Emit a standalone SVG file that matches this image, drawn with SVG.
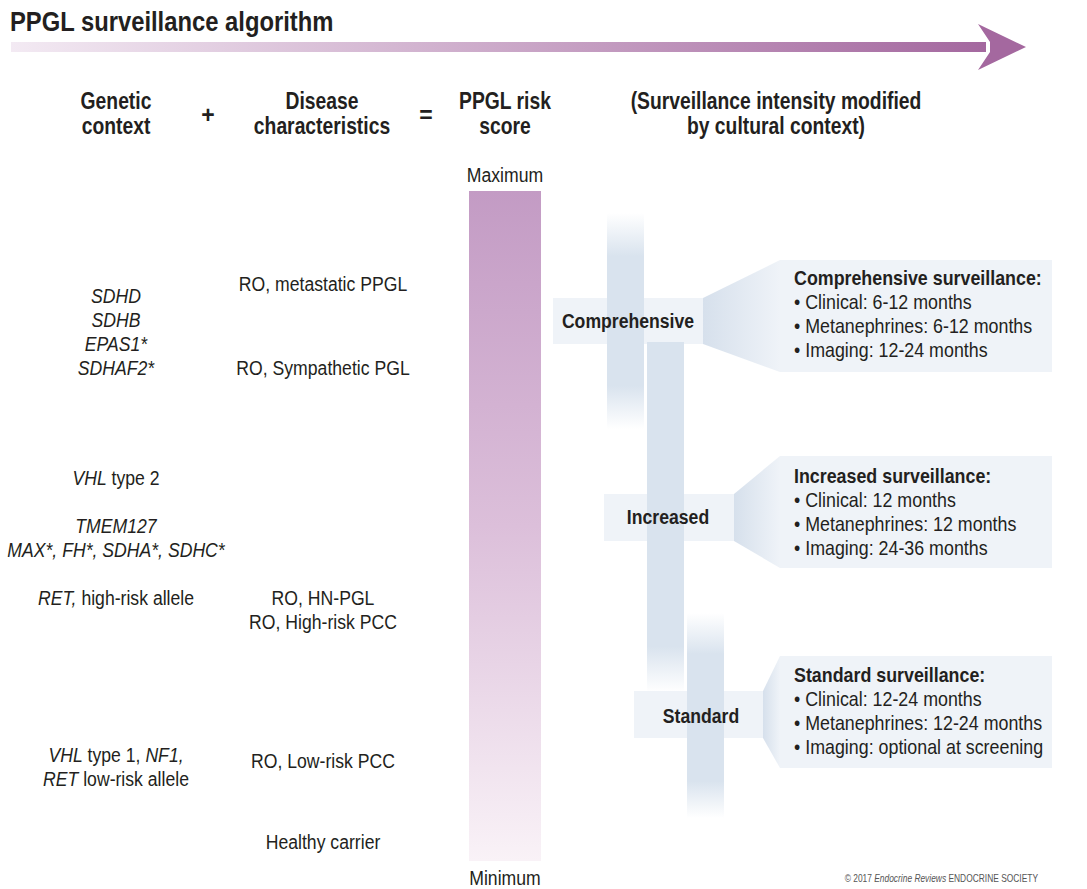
<svg xmlns="http://www.w3.org/2000/svg" width="1087" height="889" viewBox="0 0 1087 889">
<style>
text{font-family:"Liberation Sans",Arial,sans-serif;fill:#231f20;}
.n{font-size:21px;}
.h{font-size:23px;font-weight:bold;}
.lb{font-size:21px;font-weight:bold;}
.i{font-style:italic;}
.m{text-anchor:middle;}
.cp{font-size:10.5px;fill:#555;}
.box{fill:#eff3f8;}
</style>
<defs>
<linearGradient id="arrowG" x1="0" y1="0" x2="1" y2="0">
<stop offset="0" stop-color="#f3eaf3"/>
<stop offset="1" stop-color="#a4689f"/>
</linearGradient>
<linearGradient id="riskG" x1="0" y1="0" x2="0" y2="1">
<stop offset="0" stop-color="#c39bc4"/>
<stop offset="0.5" stop-color="#dcbfda"/>
<stop offset="1" stop-color="#f9f2f7"/>
</linearGradient>
<linearGradient id="b1" x1="0" y1="0" x2="0" y2="1">
<stop offset="0" stop-color="#d9e3ee" stop-opacity="0"/>
<stop offset="0.2" stop-color="#d9e3ee"/>
<stop offset="0.8" stop-color="#d9e3ee"/>
<stop offset="1" stop-color="#d9e3ee" stop-opacity="0"/>
</linearGradient>
<linearGradient id="b2" x1="0" y1="0" x2="0" y2="1">
<stop offset="0" stop-color="#d9e3ee"/>
<stop offset="0.87" stop-color="#d9e3ee"/>
<stop offset="1" stop-color="#d9e3ee" stop-opacity="0"/>
</linearGradient>
<linearGradient id="b3" x1="0" y1="0" x2="0" y2="1">
<stop offset="0" stop-color="#d9e3ee" stop-opacity="0"/>
<stop offset="0.2" stop-color="#d9e3ee"/>
<stop offset="0.82" stop-color="#d9e3ee"/>
<stop offset="1" stop-color="#d9e3ee" stop-opacity="0"/>
</linearGradient>
<linearGradient id="trap" x1="0" y1="0" x2="1" y2="0">
<stop offset="0" stop-color="#d6e0ec"/>
<stop offset="1" stop-color="#eff3f8"/>
</linearGradient>
</defs>
<rect width="1087" height="889" fill="#ffffff"/>

<g id="title">
<g transform="translate(10 31) scale(0.85 1)"><text x="0" y="0" style="font-size:28px;font-weight:bold">PPGL surveillance algorithm</text></g>
<rect x="11" y="42" width="975" height="10" fill="url(#arrowG)"/>
<polygon points="978,24 1026,47 978,70 990,52 990,42" fill="#a4689f"/>
</g>

<g id="headers">
<g transform="translate(116 0) scale(0.84 1)">
<text class="h m" x="0" y="109">Genetic</text>
<text class="h m" x="0" y="134">context</text>
</g>
<text class="h m" x="208" y="123">+</text>
<g transform="translate(322 0) scale(0.84 1)">
<text class="h m" x="0" y="109">Disease</text>
<text class="h m" x="0" y="134">characteristics</text>
</g>
<text class="h m" x="426" y="123">=</text>
<g transform="translate(505 0) scale(0.84 1)">
<text class="h m" x="0" y="109">PPGL risk</text>
<text class="h m" x="0" y="134">score</text>
</g>
<g transform="translate(776 0) scale(0.84 1)">
<text class="h m" x="0" y="109">(Surveillance intensity modified</text>
<text class="h m" x="0" y="134">by cultural context)</text>
</g>
</g>

<g id="genetic-context" transform="translate(116 0) scale(0.84 1)">
<text class="n m i" x="0" y="303">SDHD</text>
<text class="n m i" x="0" y="327">SDHB</text>
<text class="n m i" x="0" y="351">EPAS1*</text>
<text class="n m i" x="0" y="375">SDHAF2*</text>
<text class="n m" x="0" y="485"><tspan class="i">VHL</tspan> type 2</text>
<text class="n m i" x="0" y="533">TMEM127</text>
<text class="n m i" x="0" y="557">MAX*, FH*, SDHA*, SDHC*</text>
<text class="n m" x="0" y="605"><tspan class="i">RET,</tspan> high-risk allele</text>
<text class="n m" x="0" y="762"><tspan class="i">VHL</tspan> type 1, <tspan class="i">NF1,</tspan></text>
<text class="n m" x="0" y="786"><tspan class="i">RET</tspan> low-risk allele</text>
</g>

<g id="disease-characteristics" transform="translate(323 0) scale(0.84 1)">
<text class="n m" x="0" y="291">RO, metastatic PPGL</text>
<text class="n m" x="0" y="375">RO, Sympathetic PGL</text>
<text class="n m" x="0" y="605">RO, HN-PGL</text>
<text class="n m" x="0" y="629">RO, High-risk PCC</text>
<text class="n m" x="0" y="768">RO, Low-risk PCC</text>
<text class="n m" x="0" y="849">Healthy carrier</text>
</g>

<g id="risk-score">
<g transform="translate(505 0) scale(0.84 1)">
<text class="n m" x="0" y="182">Maximum</text>
<text class="n m" x="0" y="885">Minimum</text>
</g>
<rect x="469" y="191" width="72" height="670" fill="url(#riskG)"/>
</g>

<g id="comprehensive">
<rect class="box" x="553" y="298" width="150" height="46"/>
<polygon points="703,298 780,260 780,372 703,344" fill="url(#trap)"/>
<rect class="box" x="780" y="260" width="272" height="112"/>
</g>
<g id="increased">
<rect class="box" x="604" y="494" width="130" height="47"/>
<polygon points="734,494 780,456 780,568 734,541" fill="url(#trap)"/>
<rect class="box" x="780" y="456" width="272" height="112"/>
</g>
<g id="standard">
<rect class="box" x="634" y="691" width="129" height="47"/>
<polygon points="763,691 780,656 780,768 763,738" fill="url(#trap)"/>
<rect class="box" x="780" y="656" width="272" height="112"/>
</g>

<g id="connectors">
<rect x="607" y="213" width="37" height="216" fill="url(#b1)"/>
<rect x="647" y="342" width="37" height="350" fill="url(#b2)"/>
<rect x="687" y="613" width="37" height="205" fill="url(#b3)"/>
</g>

<g id="labels">
<g transform="translate(628 0) scale(0.84 1)"><text class="lb m" x="0" y="328">Comprehensive</text></g>
<g transform="translate(668 0) scale(0.84 1)"><text class="lb m" x="0" y="524">Increased</text></g>
<g transform="translate(701 0) scale(0.84 1)"><text class="lb m" x="0" y="723">Standard</text></g>
</g>

<g id="info-text" transform="translate(794 0) scale(0.85 1)">
<text class="lb" x="0" y="285">Comprehensive surveillance:</text>
<text class="n" x="0" y="309">• Clinical: 6-12 months</text>
<text class="n" x="0" y="333">• Metanephrines: 6-12 months</text>
<text class="n" x="0" y="357">• Imaging: 12-24 months</text>
<text class="lb" x="0" y="483">Increased surveillance:</text>
<text class="n" x="0" y="507">• Clinical: 12 months</text>
<text class="n" x="0" y="531">• Metanephrines: 12 months</text>
<text class="n" x="0" y="555">• Imaging: 24-36 months</text>
<text class="lb" x="0" y="682">Standard surveillance:</text>
<text class="n" x="0" y="706">• Clinical: 12-24 months</text>
<text class="n" x="0" y="730">• Metanephrines: 12-24 months</text>
<text class="n" x="0" y="754">• Imaging: optional at screening</text>
</g>

<g id="copyright" transform="translate(1038 882) scale(0.8 1)">
<text class="cp" x="0" y="0" text-anchor="end">© 2017 <tspan class="i">Endocrine Reviews</tspan> ENDOCRINE SOCIETY</text>
</g>
</svg>
